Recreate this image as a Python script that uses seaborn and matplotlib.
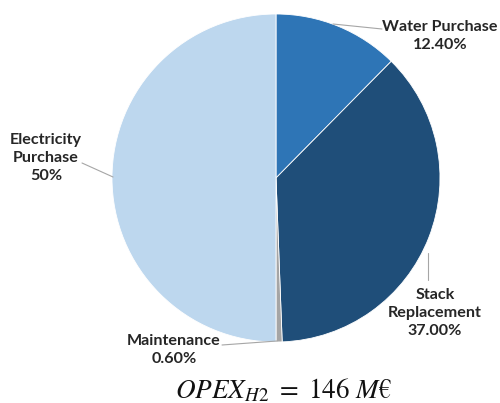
import matplotlib
matplotlib.use("Agg")
import matplotlib.pyplot as plt
import seaborn as sns

categories = ["Water Purchase", "Stack Replacement", "Maintenance", "Electricity Purchase"]
values = [12.40, 37.00, 0.60, 50.0]
label_texts = ["Water Purchase\n12.40%", "Stack\nReplacement\n37.00%", "Maintenance\n0.60%", "Electricity\nPurchase\n50%"]
colors = ["#2E75B6", "#1F4E79", "#A5A5A5", "#BDD7EE"]
caption = r"$OPEX_{H2}\ =\ 146\ M€$"

sns.set_theme(style="white")
plt.rcParams["font.family"] = ["Lato", "DejaVu Sans"]
plt.rcParams["mathtext.fontset"] = "stix"

W, H = 500, 403
fig = plt.figure(figsize=(W / 100, H / 100), dpi=100)
ax = fig.add_axes([0, 0, 1, 1])

CX, CY, R = 276, 178, 164


def p2d(px, py):
    return ((px - CX) / R, (CY - py) / R)


wedges, _ = ax.pie(values, colors=colors, startangle=90, counterclock=False,
                   radius=1.0, center=(0, 0),
                   wedgeprops=dict(edgecolor="white", linewidth=0.6))

# label placements (pixel coords): text center, leader start, leader end
placements = [
    ((440, 36), (382, 29), (333, 24)),
    ((435, 313), (428, 280), (428, 253)),
    ((174, 350), (222, 345), (277, 341)),
    ((46, 158), (82, 163), (113, 177)),
]
text_color = "#262626"
for txt, (tp, ls, le) in zip(label_texts, placements):
    ax.text(*p2d(*tp), txt, ha="center", va="center", fontsize=11.6,
            fontweight="bold", color=text_color, linespacing=1.32)
    x0, y0 = p2d(*ls)
    x1, y1 = p2d(*le)
    ax.plot([x0, x1], [y0, y1], color="#A6A6A6", lw=0.8)

ax.text(*p2d(284, 390), caption, ha="center", va="center", fontsize=19.5,
        color="#111111")

ax.set_aspect("auto")
ax.set_xlim(-CX / R, (W - CX) / R)
ax.set_ylim(-(H - CY) / R, CY / R)
ax.axis("off")

fig.savefig("out.png", dpi=100, facecolor="white")
